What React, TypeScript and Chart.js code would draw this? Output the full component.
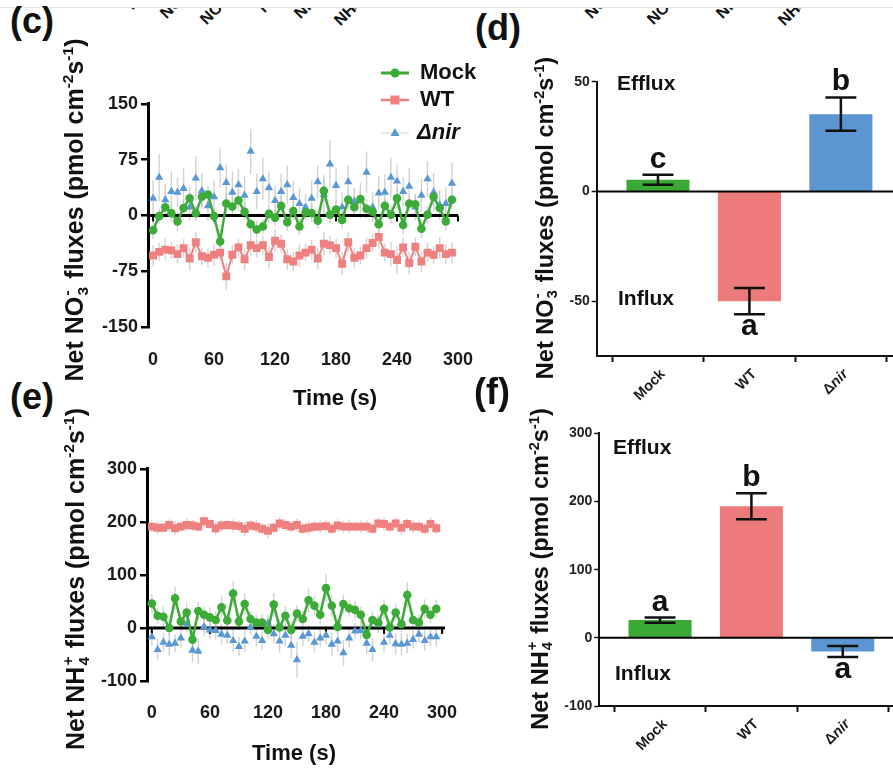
import React, { useEffect, useRef } from 'react';
import { Chart, registerables } from 'chart.js';
Chart.register(...registerables);

const FONT = "'Liberation Sans', Arial, Helvetica, sans-serif";

// ---------- time-course data (s) ----------
const times = [0, 6, 12, 18, 24, 30, 36, 42, 48, 54, 60, 66, 72, 78, 84, 90, 96, 102, 108, 114, 120, 126, 132, 138, 144, 150, 156, 162, 168, 174, 180, 186, 192, 198, 204, 210, 216, 222, 228, 234, 240, 246, 252, 258, 264, 270, 276, 282, 288, 294];
const timeTicks = [0, 60, 120, 180, 240, 300];

// NO3- fluxes (panel c)
const mockNO3 = [-20, -1, 11, 3, -8, 10, 23, 3, 25, 28, -1, -35, 16, 12, 20, 5, -12, -19, -15, 2, -3, 13, -9, 6, -15, 4, 3, -7, 33, 1, 8, -6, 21, 11, 22, 9, 5, -12, 13, 1, 23, -13, 16, 15, -18, 1, 25, 10, -8, 21];
const wtNO3 = [-54, -49, -46, -47, -52, -44, -58, -36, -55, -57, -53, -50, -82, -53, -43, -59, -40, -44, -40, -56, -34, -38, -59, -62, -54, -50, -46, -58, -38, -40, -44, -65, -36, -57, -54, -44, -37, -29, -50, -52, -60, -43, -64, -42, -62, -50, -53, -44, -52, -50];
const nirNO3 = [23, 51, 21, 32, 31, 36, 11, 50, 33, 13, 25, 64, 44, 31, 41, 27, 86, 32, 49, 37, 20, 32, 41, 24, 16, 11, 23, 45, 28, 69, 40, 11, 45, 19, 20, 58, 11, 30, 31, 51, 46, 32, 39, 11, 27, 49, 31, 14, 16, 43];
const errMockNO3 = [12, 10, 14, 11, 13, 12, 15, 10, 14, 12, 11, 16, 13, 12, 14, 11, 13, 12, 10, 12, 11, 14, 12, 13, 11, 10, 12, 11, 15, 12, 13, 11, 12, 14, 12, 13, 11, 12, 10, 13, 14, 12, 11, 13, 12, 11, 14, 12, 13, 12];
const errWtNO3 = [14, 12, 15, 11, 13, 12, 16, 14, 12, 13, 15, 12, 18, 13, 12, 15, 14, 12, 13, 15, 16, 12, 14, 13, 15, 12, 13, 14, 16, 12, 13, 15, 14, 13, 12, 14, 13, 15, 12, 16, 18, 13, 15, 12, 14, 13, 12, 15, 13, 14];
const errNirNO3 = [24, 32, 22, 26, 20, 28, 18, 30, 24, 20, 22, 26, 24, 28, 22, 26, 30, 24, 28, 22, 20, 24, 26, 22, 20, 18, 24, 22, 26, 32, 24, 20, 22, 18, 24, 28, 20, 22, 24, 26, 22, 20, 24, 18, 22, 24, 26, 20, 22, 28];

// NH4+ fluxes (panel e)
const mockNH4 = [46, 23, 21, 0, 56, 12, 29, -22, 32, 25, 20, 15, 39, 14, 65, 12, 45, 17, 10, 10, -4, 44, 1, 23, -4, 27, 17, 52, 42, 25, 75, 42, 2, 45, 37, 34, 25, -13, 15, 10, 36, 1, 29, 7, 62, 15, 10, 36, 25, 36];
const wtNH4 = [191, 189, 189, 194, 188, 191, 194, 193, 191, 201, 196, 188, 193, 194, 193, 192, 187, 193, 191, 187, 183, 189, 197, 194, 191, 194, 187, 189, 191, 191, 192, 187, 193, 191, 191, 191, 191, 191, 187, 197, 196, 191, 197, 189, 196, 191, 191, 187, 196, 188];
const nirNH4 = [-17, -41, -27, -31, -29, -19, 7, -42, -44, 2, -4, -5, -12, -14, -24, -35, -25, 1, -16, -24, 9, -11, -25, -14, -33, -60, -16, -11, -27, -19, -14, -31, -25, -47, -19, -6, -5, -29, -41, 6, -27, -14, -30, -31, -29, -22, -12, -24, -17, -17];
const errMockNH4 = [18, 15, 20, 14, 22, 16, 18, 24, 17, 15, 19, 16, 20, 15, 24, 16, 20, 15, 14, 16, 17, 22, 15, 19, 18, 16, 15, 22, 18, 17, 26, 20, 15, 18, 16, 17, 15, 20, 16, 15, 18, 14, 17, 15, 24, 17, 15, 18, 16, 17];
const errWtNH4 = [10, 12, 9, 11, 13, 10, 12, 11, 10, 12, 9, 13, 11, 10, 12, 11, 13, 10, 12, 11, 14, 10, 12, 11, 10, 12, 11, 13, 10, 12, 11, 10, 12, 11, 13, 10, 11, 12, 10, 11, 12, 10, 11, 13, 10, 12, 11, 10, 12, 11];
const errNirNH4 = [16, 20, 18, 22, 17, 19, 15, 22, 24, 16, 18, 17, 20, 16, 22, 18, 20, 15, 19, 17, 16, 18, 22, 20, 24, 34, 18, 16, 20, 18, 17, 22, 19, 24, 18, 16, 17, 20, 22, 15, 19, 17, 20, 21, 18, 17, 16, 19, 17, 18];

// ---------- bar data ----------
const categories = ['Mock', 'WT', 'Δnir'];
const no3Means = [5.3, -50, 35.2];
const no3Err = [2.3, 6, 7.6];
const no3Letters = ['c', 'a', 'b'];
const nh4Means = [26, 193, -20];
const nh4Err = [3.8, 19, 8];
const nh4Letters = ['a', 'b', 'a'];

const no3LineTicks = [-150, -75, 0, 75, 150];
const nh4LineTicks = [-100, 0, 100, 200, 300];
const no3BarTicks = [-50, 0, 50];
const nh4BarTicks = [-100, 0, 100, 200, 300];

const GREEN = '#3cab37';
const PINK = '#ef8080';
const BLUE = '#5a98d5';
const BAR_COLORS = ['#3aaa35', '#ee7b7b', '#5b96d2'];

// ---------- plugins ----------
function seriesErrPlugin(errs: number[][]) {
  return {
    id: 'seriesErr',
    beforeDatasetsDraw(chart: any) {
      const { ctx, scales } = chart;
      ctx.save();
      ctx.strokeStyle = 'rgba(195,195,195,0.75)';
      ctx.lineWidth = 1.4;
      chart.data.datasets.forEach((ds: any, i: number) => {
        const meta = chart.getDatasetMeta(i);
        meta.data.forEach((pt: any, j: number) => {
          const v = ds.data[j].y;
          const e = errs[i][j];
          ctx.beginPath();
          ctx.moveTo(pt.x, scales.y.getPixelForValue(v + e));
          ctx.lineTo(pt.x, scales.y.getPixelForValue(v - e));
          ctx.stroke();
        });
      });
      ctx.restore();
    },
  };
}

function zeroLinePlugin(width: number, front: boolean, ticks: number[] | null) {
  const draw = (chart: any) => {
    const { ctx, chartArea, scales } = chart;
    const y0 = scales.y.getPixelForValue(0);
    ctx.save();
    ctx.strokeStyle = '#000';
    ctx.lineWidth = width;
    ctx.beginPath();
    ctx.moveTo(chartArea.left, y0);
    ctx.lineTo(chartArea.right, y0);
    ctx.stroke();
    if (ticks) {
      ctx.lineWidth = 2;
      ticks.forEach((t) => {
        const x = scales.x.getPixelForValue(t);
        ctx.beginPath();
        ctx.moveTo(x, y0);
        ctx.lineTo(x, y0 + 6);
        ctx.stroke();
      });
    }
    ctx.restore();
  };
  return front
    ? { id: 'zeroLine', afterDatasetsDraw: draw }
    : { id: 'zeroLine', beforeDatasetsDraw: draw };
}

function barErrPlugin(means: number[], errs: number[], letters: string[]) {
  return {
    id: 'barErr',
    afterDatasetsDraw(chart: any) {
      const { ctx, scales } = chart;
      const meta = chart.getDatasetMeta(0);
      ctx.save();
      ctx.strokeStyle = '#111';
      ctx.fillStyle = '#111';
      ctx.lineWidth = 2.5;
      means.forEach((m, i) => {
        const bar = meta.data[i];
        const x = bar.x;
        const half = bar.width * 0.245;
        const yHi = scales.y.getPixelForValue(m + errs[i]);
        const yLo = scales.y.getPixelForValue(m - errs[i]);
        ctx.beginPath();
        ctx.moveTo(x, yHi); ctx.lineTo(x, yLo);
        ctx.moveTo(x - half, yHi); ctx.lineTo(x + half, yHi);
        ctx.moveTo(x - half, yLo); ctx.lineTo(x + half, yLo);
        ctx.stroke();
        ctx.font = `bold 30px ${FONT}`;
        ctx.textAlign = 'center';
        ctx.textBaseline = 'alphabetic';
        if (m >= 0) ctx.fillText(letters[i], x, yHi - 7);
        else ctx.fillText(letters[i], x, yLo + 21);
      });
      ctx.restore();
    },
  };
}

function catLabelPlugin(labels: string[]) {
  return {
    id: 'catLabels',
    afterDraw(chart: any) {
      const { ctx, scales } = chart;
      const axY = scales.x.top;
      labels.forEach((lab, i) => {
        const x = scales.x.getPixelForValue(i);
        const parts: [string, string][] = lab.startsWith('Δ')
          ? [['Δ', `bold 14.5px ${FONT}`], [lab.slice(1), `italic bold 14.5px ${FONT}`]]
          : [[lab, `bold 14.5px ${FONT}`]];
        ctx.save();
        ctx.translate(x + 5, axY + 16);
        ctx.rotate(-Math.PI / 4);
        ctx.fillStyle = '#1a1a1a';
        ctx.textBaseline = 'middle';
        ctx.textAlign = 'left';
        let total = 0;
        parts.forEach(([t, f]) => { ctx.font = f; total += ctx.measureText(t).width; });
        let cx = -total;
        parts.forEach(([t, f]) => { ctx.font = f; ctx.fillText(t, cx, 0); cx += ctx.measureText(t).width; });
        ctx.restore();
      });
    },
  };
}

// ---------- configs ----------
type Series = { label: string; values: number[]; err: number[]; color: string; pointStyle: string; radius: number; lineWidth: number; showLine: boolean };

function lineConfig(p: { series: Series[]; yTicks: number[]; xMin: number; xMax: number; padTop: number; padRight: number; yWidth: number; xHeight: number; xPad: number }) {
  const yMin = p.yTicks[0];
  const yMax = p.yTicks[p.yTicks.length - 1];
  return {
    type: 'line',
    data: {
      datasets: p.series.map((s) => ({
        label: s.label,
        data: times.map((t, i) => ({ x: t, y: s.values[i] })),
        borderColor: s.color,
        backgroundColor: s.color,
        borderWidth: s.lineWidth,
        showLine: s.showLine,
        pointStyle: s.pointStyle,
        pointRadius: s.radius,
        pointHoverRadius: s.radius,
        pointBackgroundColor: s.color,
        pointBorderColor: s.color,
        pointBorderWidth: 0,
        tension: 0,
        fill: false,
      })),
    },
    options: {
      responsive: false,
      animation: false,
      devicePixelRatio: 1,
      layout: { padding: { left: 0, top: p.padTop, right: p.padRight, bottom: 0 } },
      plugins: { legend: { display: false }, tooltip: { enabled: false } },
      scales: {
        x: {
          type: 'linear',
          min: p.xMin,
          max: p.xMax,
          afterBuildTicks: (ax: any) => { ax.ticks = timeTicks.map((v) => ({ value: v })); },
          afterFit: (ax: any) => { ax.height = p.xHeight; },
          border: { display: false },
          grid: { display: false },
          ticks: { padding: p.xPad, color: '#1a1a1a', maxRotation: 0, autoSkip: false, font: { family: FONT, size: 18, weight: 'bold' } },
        },
        y: {
          type: 'linear',
          min: yMin,
          max: yMax,
          afterBuildTicks: (ax: any) => { ax.ticks = p.yTicks.map((v) => ({ value: v })); },
          afterFit: (ax: any) => { ax.width = p.yWidth; },
          border: { display: true, color: '#000', width: 3 },
          grid: { drawOnChartArea: false, drawTicks: true, tickLength: 7, tickWidth: 2.5, tickColor: '#000', color: '#000', lineWidth: 2.5 },
          ticks: { padding: 3, color: '#1a1a1a', font: { family: FONT, size: 18, weight: 'bold' } },
        },
      },
    },
    plugins: [seriesErrPlugin(p.series.map((s) => s.err)), zeroLinePlugin(3, false, timeTicks)],
  };
}

function barConfig(p: { means: number[]; errs: number[]; letters: string[]; yTicks: number[]; yMin: number; yMax: number; xMin: number; xMax: number; padTop: number; yWidth: number; xHeight: number }) {
  return {
    type: 'bar',
    data: {
      datasets: [{
        data: categories.map((_, i) => ({ x: i, y: p.means[i] })),
        backgroundColor: BAR_COLORS,
        borderWidth: 0,
        barPercentage: 0.69,
        categoryPercentage: 1,
      }],
    },
    options: {
      responsive: false,
      animation: false,
      devicePixelRatio: 1,
      layout: { padding: { left: 0, top: p.padTop, right: 0, bottom: 0 } },
      plugins: { legend: { display: false }, tooltip: { enabled: false } },
      scales: {
        x: {
          type: 'linear',
          min: p.xMin,
          max: p.xMax,
          offset: false,
          afterBuildTicks: (ax: any) => { ax.ticks = categories.map((_, i) => ({ value: i })); },
          afterFit: (ax: any) => { ax.height = p.xHeight; },
          border: { display: true, color: '#111', width: 2 },
          grid: { drawOnChartArea: false, drawTicks: true, tickLength: 6, tickWidth: 2, tickColor: '#111', color: '#111' },
          ticks: { display: false },
        },
        y: {
          type: 'linear',
          min: p.yMin,
          max: p.yMax,
          afterBuildTicks: (ax: any) => { ax.ticks = p.yTicks.map((v) => ({ value: v })); },
          afterFit: (ax: any) => { ax.width = p.yWidth; },
          border: { display: true, color: '#111', width: 2 },
          grid: { drawOnChartArea: false, drawTicks: true, tickLength: 5, tickWidth: 1.5, tickColor: '#111', color: '#111' },
          ticks: { padding: 2, color: '#222', font: { family: FONT, size: 14, weight: 'bold' } },
        },
      },
    },
    plugins: [zeroLinePlugin(2, true, null), barErrPlugin(p.means, p.errs, p.letters), catLabelPlugin(categories)],
  };
}

function ChartBox({ left, top, width, height, make }: { left: number; top: number; width: number; height: number; make: () => any }) {
  const ref = useRef<HTMLCanvasElement>(null);
  useEffect(() => {
    const chart = new Chart(ref.current as HTMLCanvasElement, make());
    return () => chart.destroy();
  }, []);
  return <canvas ref={ref} width={width} height={height} style={{ position: 'absolute', left, top, width, height }} />;
}

// ---------- text helpers ----------
function Stack({ top, bottom }: { top: string; bottom: string }) {
  return (
    <span style={{ display: 'inline-flex', flexDirection: 'column', fontSize: '0.62em', lineHeight: 1, verticalAlign: '0.72em', alignItems: 'flex-start', margin: '0 0.08em' }}>
      <span>{top}</span>
      <span>{bottom}</span>
    </span>
  );
}
const supStyle: React.CSSProperties = { fontSize: '0.62em', verticalAlign: '0.62em', lineHeight: 0 };

function YTitle({ cx, cy, size, ion }: { cx: number; cy: number; size: number; ion: 'NO3' | 'NH4' }) {
  return (
    <div style={{ position: 'absolute', left: cx, top: cy, transform: 'translate(-50%, -50%) rotate(-90deg)', whiteSpace: 'nowrap', fontWeight: 'bold', fontSize: size, lineHeight: 1, color: '#111' }}>
      {ion === 'NO3' ? <>Net NO<Stack top="-" bottom="3" /></> : <>Net NH<Stack top="+" bottom="4" /></>}
      {' fluxes (pmol cm'}<span style={supStyle}>-2</span>s<span style={supStyle}>-1</span>)
    </div>
  );
}

function Txt({ left, top, size, children, center, italic }: { left: number; top: number; size: number; children: any; center?: boolean; italic?: boolean }) {
  return (
    <div style={{ position: 'absolute', left, top, fontSize: size, lineHeight: `${size}px`, fontWeight: 'bold', fontStyle: italic ? 'italic' : 'normal', whiteSpace: 'nowrap', color: '#111', transform: center ? 'translateX(-50%)' : undefined }}>
      {children}
    </div>
  );
}

const topFragments: [number, number, string][] = [
  [136, 12, 'NO'], [170, 21, 'NO'], [210, 27, 'NO'], [268, 15, 'NH'], [304, 21, 'NH'], [344, 28, 'NH'],
  [595, 21, 'NO'], [657, 27, 'NO'], [726, 21, 'NH'], [788, 28, 'NH'],
];

function Legend() {
  const rowY = [73, 100, 133];
  return (
    <>
      <svg style={{ position: 'absolute', left: 381, top: rowY[0] - 7 }} width={28} height={14}>
        <line x1={0} y1={7} x2={28} y2={7} stroke={GREEN} strokeWidth={3} />
        <circle cx={14} cy={7} r={4.5} fill={GREEN} />
      </svg>
      <svg style={{ position: 'absolute', left: 381, top: rowY[1] - 7 }} width={28} height={14}>
        <line x1={0} y1={7} x2={28} y2={7} stroke={PINK} strokeWidth={2.5} />
        <rect x={9.5} y={2.5} width={9} height={9} fill={PINK} />
      </svg>
      <svg style={{ position: 'absolute', left: 381, top: rowY[2] - 7 }} width={28} height={14}>
        <line x1={0} y1={7} x2={28} y2={7} stroke="#e2e2e2" strokeWidth={1.5} />
        <polygon points="14,2 18.5,10 9.5,10" fill={BLUE} />
      </svg>
      <Txt left={420} top={61} size={22}>Mock</Txt>
      <Txt left={420} top={88} size={22}>WT</Txt>
      <Txt left={417} top={121} size={22} italic>Δnir</Txt>
    </>
  );
}

export default function App() {
  const panelC = () => lineConfig({
    series: [
      { label: 'Mock', values: mockNO3, err: errMockNO3, color: GREEN, pointStyle: 'circle', radius: 4.3, lineWidth: 2.5, showLine: true },
      { label: 'WT', values: wtNO3, err: errWtNO3, color: PINK, pointStyle: 'rect', radius: 5.6, lineWidth: 2, showLine: true },
      { label: 'Δnir', values: nirNO3, err: errNirNO3, color: BLUE, pointStyle: 'triangle', radius: 4.8, lineWidth: 0, showLine: false },
    ],
    yTicks: no3LineTicks, xMin: -5, xMax: 300, padTop: 12, padRight: 32, yWidth: 58, xHeight: 53, xPad: 14,
  });
  const panelE = () => lineConfig({
    series: [
      { label: 'Mock', values: mockNH4, err: errMockNH4, color: GREEN, pointStyle: 'circle', radius: 4.3, lineWidth: 2.5, showLine: true },
      { label: 'WT', values: wtNH4, err: errWtNH4, color: PINK, pointStyle: 'rect', radius: 5.6, lineWidth: 2, showLine: true },
      { label: 'Δnir', values: nirNH4, err: errNirNH4, color: BLUE, pointStyle: 'triangle', radius: 4.8, lineWidth: 0, showLine: false },
    ],
    yTicks: nh4LineTicks, xMin: -5, xMax: 303, padTop: 11.7, padRight: 45, yWidth: 57, xHeight: 74, xPad: 13,
  });
  const panelD = () => barConfig({
    means: no3Means, errs: no3Err, letters: no3Letters, yTicks: no3BarTicks, yMin: -75, yMax: 50,
    xMin: -0.67, xMax: 2.57, padTop: 31.7, yWidth: 61.7, xHeight: 54,
  });
  const panelF = () => barConfig({
    means: nh4Means, errs: nh4Err, letters: nh4Letters, yTicks: nh4BarTicks, yMin: -100, yMax: 300,
    xMin: -0.665, xMax: 2.55, padTop: 13.3, yWidth: 64.3, xHeight: 67,
  });

  return (
    <div style={{ position: 'fixed', left: 0, top: 0, width: 893, height: 773, background: '#fff', overflow: 'hidden', fontFamily: FONT }}>
      <div style={{ position: 'absolute', left: 0, top: 7, width: 893, height: 1, background: '#e4e4e4' }} />
      <div style={{ position: 'absolute', left: 0, top: 8, width: 893, height: 26, overflow: 'hidden' }}>
        {topFragments.map(([x, y, t], i) => (
          <div key={i} style={{ position: 'absolute', left: x, top: y - 8 - 16, fontSize: 16, lineHeight: '16px', fontWeight: 'bold', color: '#111', transform: 'rotate(-45deg)', transformOrigin: '0 100%', whiteSpace: 'nowrap' }}>
            {t}<span style={{ fontSize: 10 }}>{t === 'NO' ? '3' : '4'}</span> fluxes
          </div>
        ))}
      </div>

      <ChartBox left={90} top={90} width={400} height={290} make={panelC} />
      <ChartBox left={90} top={455} width={400} height={300} make={panelE} />
      <ChartBox left={535} top={50} width={358} height={360} make={panelD} />
      <ChartBox left={535} top={420} width={358} height={353} make={panelF} />

      <Txt left={10} top={3} size={36}>(c)</Txt>
      <Txt left={475} top={10} size={36}>(d)</Txt>
      <Txt left={10} top={379} size={36}>(e)</Txt>
      <Txt left={474} top={374} size={36}>(f)</Txt>

      <YTitle cx={74} cy={210} size={25} ion="NO3" />
      <YTitle cx={75} cy={579} size={25} ion="NH4" />
      <YTitle cx={545} cy={218} size={23.5} ion="NO3" />
      <YTitle cx={540} cy={569} size={23.5} ion="NH4" />

      <Txt left={335} top={387} size={22} center>Time (s)</Txt>
      <Txt left={294} top={742} size={22} center>Time (s)</Txt>

      <Legend />

      <Txt left={617} top={72} size={21}>Efflux</Txt>
      <Txt left={618} top={287} size={21}>Influx</Txt>
      <Txt left={613} top={436} size={21}>Efflux</Txt>
      <Txt left={615} top={662} size={21}>Influx</Txt>
    </div>
  );
}
